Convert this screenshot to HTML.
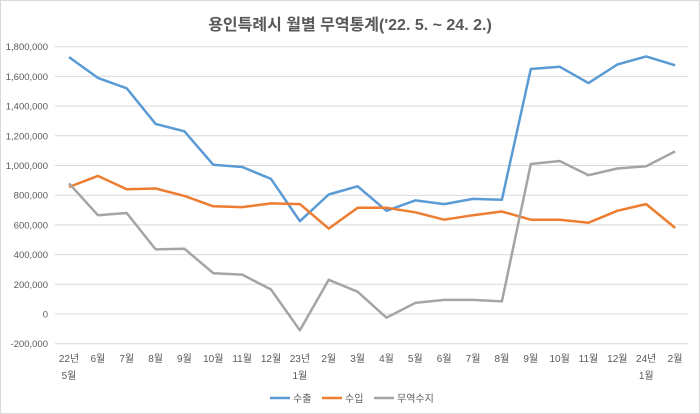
<!DOCTYPE html>
<html><head><meta charset="utf-8"><style>
html,body{margin:0;padding:0;background:#fff}
svg{display:block;font-family:"Liberation Sans","Noto Sans CJK KR",sans-serif}
</style></head><body>
<svg id="c" width="700" height="414" viewBox="0 0 700 414">
<rect x="0.5" y="0.5" width="699" height="413" fill="#fff" stroke="#d9d9d9"/>
<text x="350" y="30" text-anchor="middle" font-size="16" font-weight="bold" fill="#595959">용인특례시 월별 무역통계('22. 5. ~ 24. 2.)</text>
<g id="grid"></g><g id="lines"></g><g id="xl" font-size="10" fill="#595959" text-anchor="middle"></g>
<g font-size="10" fill="#595959">
<line x1="270" y1="398" x2="290" y2="398" stroke="#5b9bd5" stroke-width="2.5"/><text x="293" y="402">수출</text>
<line x1="322" y1="398" x2="342" y2="398" stroke="#ed7d31" stroke-width="2.5"/><text x="345" y="402">수입</text>
<line x1="374" y1="398" x2="394" y2="398" stroke="#a5a5a5" stroke-width="2.5"/><text x="397" y="402">무역수지</text>
</g>
</svg>
<script>
var ns="http://www.w3.org/2000/svg";
function Y(v){return 314-v/200000*29.7}
var g=document.getElementById("grid"),h="";
for(var v=-200000;v<=1800000;v+=200000){var y=Y(v);
h+='<line x1="55" x2="688" y1="'+y+'" y2="'+y+'" stroke="#d9d9d9" stroke-width="1"/>';
h+='<text x="48" y="'+(y+3.5)+'" text-anchor="end" font-size="9.5" fill="#595959">'+v.toLocaleString("en-US")+'</text>';}
g.innerHTML=h;
function X(i){return 69+i*28.86}
var ex=[1730,1590,1520,1280,1230,1005,990,910,625,805,860,695,765,740,775,770,1650,1665,1555,1680,1735,1675];
var im=[855,930,840,845,795,725,720,745,740,575,715,715,685,635,665,690,635,635,615,695,740,580];
var bl=[880,665,680,435,440,275,265,165,-110,230,150,-25,75,95,95,85,1010,1030,935,980,995,1095];
var L="";
[[ex,"#5b9bd5"],[im,"#ed7d31"],[bl,"#a5a5a5"]].forEach(function(s){
var p=s[0].map(function(v,i){return X(i).toFixed(1)+","+Y(v*1000).toFixed(1)}).join(" ");
L+='<polyline points="'+p+'" fill="none" stroke="'+s[1]+'" stroke-width="2.5" stroke-linejoin="round"/>';});
document.getElementById("lines").innerHTML=L;
var lab=["22년","6월","7월","8월","9월","10월","11월","12월","23년","2월","3월","4월","5월","6월","7월","8월","9월","10월","11월","12월","24년","2월"];
var t="";lab.forEach(function(s,i){t+='<text x="'+X(i)+'" y="362">'+s+'</text>';});
t+='<text x="'+X(0)+'" y="379">5월</text><text x="'+X(8)+'" y="379">1월</text><text x="'+X(20)+'" y="379">1월</text>';
document.getElementById("xl").innerHTML=t;
</script>
</body></html>
